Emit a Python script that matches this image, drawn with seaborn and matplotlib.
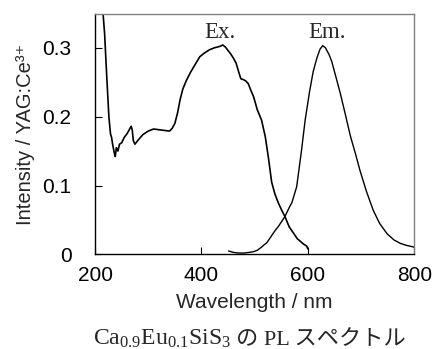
import matplotlib
matplotlib.use("Agg")
import matplotlib.pyplot as plt
import seaborn as sns
import pandas as pd

# ---- data ----
ex_wavelength = [214, 218, 222, 226, 229, 231, 233, 236, 238, 240, 243, 246, 250, 255,
                 260, 265, 268, 270, 272, 275, 280, 290, 300, 310, 320, 330, 340, 345,
                 350, 355, 360, 365, 372, 380, 390, 397, 405, 415, 425, 435, 440, 445,
                 450, 455, 460, 465, 470, 474, 478, 483, 488, 493, 498, 505, 513, 520,
                 526, 532, 538, 545, 551, 557, 565, 573, 580, 586, 592, 598, 600]
ex_intensity = [0.36, 0.32, 0.258, 0.20, 0.175, 0.17, 0.16, 0.148, 0.142, 0.155, 0.150,
                0.160, 0.162, 0.170, 0.175, 0.182, 0.186, 0.180, 0.165, 0.160, 0.165,
                0.174, 0.179, 0.182, 0.181, 0.180, 0.179, 0.183, 0.190, 0.205, 0.225,
                0.240, 0.253, 0.265, 0.278, 0.287, 0.292, 0.297, 0.300, 0.302, 0.304,
                0.301, 0.296, 0.291, 0.285, 0.278, 0.265, 0.255, 0.254, 0.252, 0.248,
                0.238, 0.229, 0.210, 0.195, 0.171, 0.140, 0.105, 0.088, 0.074, 0.064,
                0.055, 0.040, 0.031, 0.023, 0.019, 0.015, 0.012, 0.008]

em_wavelength = [451, 460, 470, 480, 490, 498, 505, 512, 518, 523, 530, 537, 545, 551,
                 557, 565, 570, 579, 588, 595, 603, 610, 617, 623, 628, 633, 640, 645,
                 652, 661, 670, 680, 690, 698, 710, 723, 735, 749, 762, 774, 786, 798, 800]
em_intensity = [0.005, 0.003, 0.002, 0.002, 0.003, 0.004, 0.006, 0.010, 0.014, 0.017,
                0.025, 0.033, 0.041, 0.048, 0.055, 0.068, 0.075, 0.098, 0.150, 0.195,
                0.235, 0.265, 0.285, 0.298, 0.303, 0.300, 0.290, 0.280, 0.260, 0.234,
                0.205, 0.172, 0.145, 0.122, 0.092, 0.064, 0.045, 0.030, 0.021, 0.016,
                0.013, 0.011, 0.010]

x_ticks = [200, 400, 600, 800]
y_ticks = [0, 0.1, 0.2, 0.3]
y_ticklabels = ["0", "0.1", "0.2", "0.3"]

ex_df = pd.DataFrame({"wavelength": ex_wavelength, "intensity": ex_intensity})
em_df = pd.DataFrame({"wavelength": em_wavelength, "intensity": em_intensity})

# ---- style ----
sns.set_style("ticks")
plt.rcParams["font.family"] = ["Liberation Sans", "DejaVu Sans"]
plt.rcParams["mathtext.fontset"] = "custom"
plt.rcParams["mathtext.rm"] = "Liberation Serif"
plt.rcParams["mathtext.it"] = "Liberation Serif:italic"

fig = plt.figure(figsize=(4.36, 3.49), dpi=100)
ax = fig.add_axes([0.218, 0.271, 0.732, 0.689])

sns.lineplot(data=ex_df, x="wavelength", y="intensity", sort=False, ax=ax,
             color="black", lw=1.2)
sns.lineplot(data=em_df, x="wavelength", y="intensity", sort=False, ax=ax,
             color="black", lw=1.0)

ax.set_xlim(200, 800)
ax.set_ylim(0, 0.349)
ax.set_xticks(x_ticks)
ax.set_yticks(y_ticks)
ax.set_yticklabels(y_ticklabels)
ax.tick_params(axis="both", direction="in", length=5, width=0.8, labelsize=15,
               colors="black")
ax.tick_params(axis="y", pad=17)
ax.tick_params(axis="x", pad=8)

for side in ["left", "bottom"]:
    ax.spines[side].set_color("black")
    ax.spines[side].set_linewidth(1.0)
for side in ["top", "right"]:
    ax.spines[side].set_visible(True)
    ax.spines[side].set_color("#808080")
    ax.spines[side].set_linewidth(1.0)

ax.set_xlabel("Wavelength / nm", fontsize=15, labelpad=6)
ax.set_ylabel("Intensity / YAG:Ce³⁺", fontsize=14.5, labelpad=5,
              family=["Liberation Sans", "DejaVu Sans"])

ax.text(435, 0.322, "Ex.", fontsize=16.5, family="Liberation Serif",
        ha="center", va="center")
ax.text(636, 0.322, "Em.", fontsize=16.5, family="Liberation Serif",
        ha="center", va="center")

# caption below the axes
cap1 = fig.text(93 / 436, 0.012, "Ca$_{0.9}$Eu$_{0.1}$SiS$_3$", fontsize=17,
                family="Liberation Serif", ha="left", va="baseline")
fig.canvas.draw()
ax.annotate("の PL スペクトル", xy=(1, 0), xycoords=cap1, xytext=(4, 0),
            textcoords="offset points", fontsize=16,
            family=["Liberation Serif", "Noto Sans CJK JP"],
            ha="left", va="bottom", annotation_clip=False)

fig.savefig("out.png", dpi=100)
